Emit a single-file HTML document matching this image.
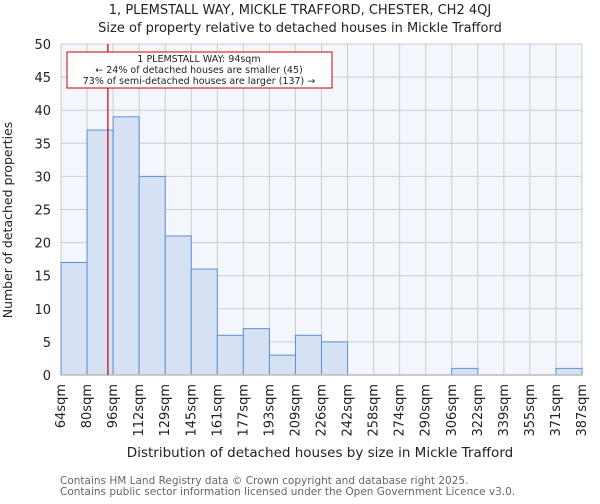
<!DOCTYPE html>
<html><head><meta charset="utf-8"><style>
body{margin:0;background:#fff;font-family:"DejaVu Sans","Liberation Sans",sans-serif}
svg text{font-family:"DejaVu Sans","Liberation Sans",sans-serif}
</style></head><body>
<svg id="chart" width="600" height="500" xmlns="http://www.w3.org/2000/svg">
<text x="300" y="14" text-anchor="middle" font-size="13" fill="#222">1, PLEMSTALL WAY, MICKLE TRAFFORD, CHESTER, CH2 4QJ</text>
<text x="300" y="32" text-anchor="middle" font-size="13" fill="#222">Size of property relative to detached houses in Mickle Trafford</text>
<rect x="61" y="44" width="521" height="331" fill="#f3f6fd"/>
<g id="grid"></g>
<g id="bars"></g>
<g id="yticks"></g>
<g id="xticks"></g>
<line id="marker" y1="44" y2="375" stroke="#cc0000" stroke-width="1.2"/>
<rect x="67" y="52" width="265" height="36" fill="#fff" stroke="#cc0000" stroke-width="1"/>
<text x="199" y="62" text-anchor="middle" font-size="9.5" fill="#222">1 PLEMSTALL WAY: 94sqm</text>
<text x="199" y="73" text-anchor="middle" font-size="9.5" fill="#222">← 24% of detached houses are smaller (45)</text>
<text x="199" y="84" text-anchor="middle" font-size="9.5" fill="#222">73% of semi-detached houses are larger (137) →</text>
<text transform="translate(12,220) rotate(-90)" text-anchor="middle" font-size="12.5" fill="#222">Number of detached properties</text>
<text x="320" y="457" text-anchor="middle" font-size="13.5" fill="#222">Distribution of detached houses by size in Mickle Trafford</text>
<text x="60" y="484" font-size="10.5" fill="#666">Contains HM Land Registry data © Crown copyright and database right 2025.</text>
<text x="60" y="495" font-size="10.5" fill="#666">Contains public sector information licensed under the Open Government Licence v3.0.</text>
</svg>
<script>
const binLabels=["64sqm","80sqm","96sqm","112sqm","129sqm","145sqm","161sqm","177sqm","193sqm","209sqm","226sqm","242sqm","258sqm","274sqm","290sqm","306sqm","322sqm","339sqm","355sqm","371sqm","387sqm"];
const counts=[17,37,39,30,21,16,6,7,3,6,5,0,0,0,0,1,0,0,0,1];
const yTicks=[0,5,10,15,20,25,30,35,40,45,50];
const markerBin=1.8;
const NS="http://www.w3.org/2000/svg";
const X0=61,X1=582,Y0=375,Y1=44,YMAX=50;
const bw=(X1-X0)/counts.length;
function xs(i){return X0+i*bw;}
function ys(v){return Y0-(v/YMAX)*(Y0-Y1);}
function mk(t,a,p){const e=document.createElementNS(NS,t);for(const k in a)e.setAttribute(k,a[k]);p.appendChild(e);return e;}
const grid=document.getElementById('grid'),bars=document.getElementById('bars'),yt=document.getElementById('yticks'),xt=document.getElementById('xticks');
yTicks.forEach(v=>{
 const l=mk('line',{x1:X0,x2:X1,y1:ys(v),y2:ys(v),stroke:'#cccccc','stroke-width':1},grid);
 
 
 const t=mk('text',{x:X0-10,y:ys(v)+5,'text-anchor':'end','font-size':13,fill:'#222'},yt);
 t.textContent=v;
 
 
});
binLabels.forEach((s,i)=>{
 const l=mk('line',{x1:xs(i),x2:xs(i),y1:Y1,y2:Y0,stroke:'#cccccc','stroke-width':1},grid);
 
 
 const x=xs(i)+4;
 const t=mk('text',{transform:`translate(${x},384) rotate(-90)`,'text-anchor':'end','font-size':13,fill:'#222'},xt);
 t.textContent=s;
 
 
});
counts.forEach((c,i)=>{
 if(c<=0)return;
 const r=mk('rect',{x:xs(i),y:ys(c),width:bw,height:Y0-ys(c),fill:'#d6e2f4',stroke:'#5b8fd6','stroke-width':1},bars);
 
 
});
const ax=mk('line',{x1:X0,x2:X1,y1:Y0,y2:Y0,stroke:'#bbbbbb','stroke-width':1.5},bars);


const m=document.getElementById('marker');
m.setAttribute('x1',xs(markerBin));m.setAttribute('x2',xs(markerBin));
</script>
</body></html>
